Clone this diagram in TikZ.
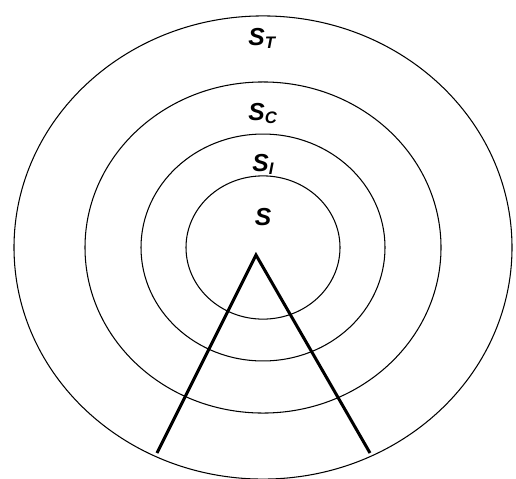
\documentclass[tikz,border=0pt]{standalone}
\usepackage{fontspec}
\setmainfont{Liberation Sans}
\newcommand{\Slabel}[1]{S\raisebox{-1.8pt}{\fontsize{9.5}{9.5}\selectfont #1}}

\begin{document}
\begin{tikzpicture}[x=0.02cm, y=0.02cm]

    % 枠
    \useasboundingbox (0,0) rectangle (516,478);

    % パラメータの定義
    \pgfmathsetmacro{\k}{0.93}

    % 点の定義
    \coordinate (O) at (263,230.5);
    \coordinate (A) at (256,223);
    \coordinate (B) at (157,25);
    \coordinate (C) at (370,25);

    % 円の描画
    \foreach \r in {77,122,178,249}
        \draw [line width=0.6pt] (O) ellipse [x radius=\r, y radius=\k*\r];

    % 線分の描画
    \draw [line width=1.7pt] (B) -- (A) -- (C);

    % ラベルの描画
    \begin{scope}[font=\fontsize{14}{16}\selectfont\bfseries\itshape, inner sep=0pt]
        \node (sT) at (248,433) [anchor=base west] {\Slabel{T}};
        \node (sC) at (248,358) [anchor=base west] {\Slabel{C}};
        \node (sI) at (252,306.3) [anchor=base west] {\Slabel{I}};
        \node (s) at (254.5,253) [anchor=base west] {S};
    \end{scope}

\end{tikzpicture}
\end{document}
